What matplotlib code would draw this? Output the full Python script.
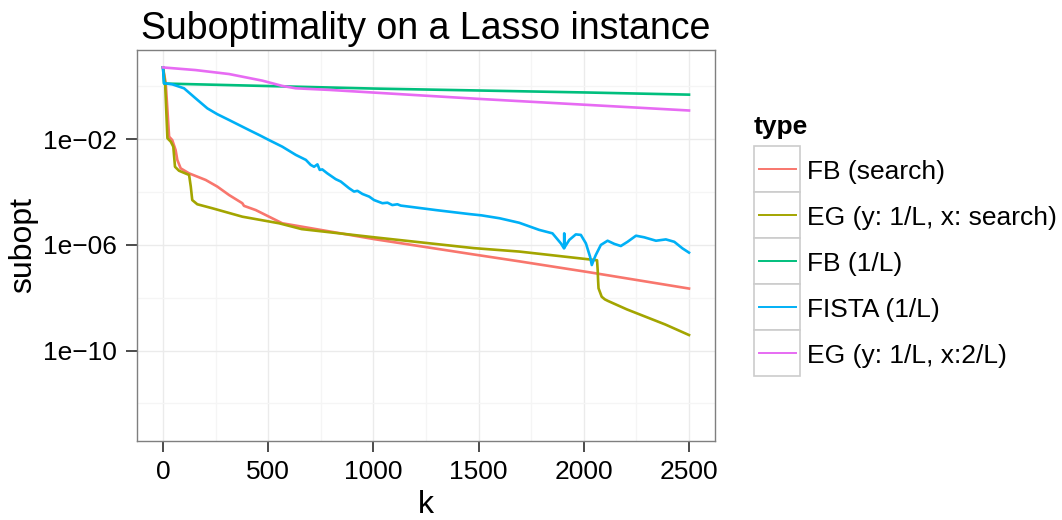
#!/usr/bin/env python3
"""Suboptimality curves on a Lasso instance, ggplot-like look."""

import matplotlib

matplotlib.use("Agg")
import matplotlib.pyplot as plt
import numpy as np
from matplotlib.lines import Line2D
from matplotlib.patches import Rectangle
from matplotlib.ticker import FixedLocator, NullFormatter

plt.rcParams["font.family"] = ["Liberation Sans", "DejaVu Sans"]

# series names, as in the legend (drawing order = legend order)
SERIES = [
    "FB (search)",
    "EG (y: 1/L, x: search)",
    "FB (1/L)",
    "FISTA (1/L)",
    "EG (y: 1/L, x:2/L)",
]
COLORS = ["#F8766D", "#A3A500", "#00BF7D", "#00B0F6", "#E76BF3"]

# iteration k and log10(subopt)
fb_search_k = [0, 13, 29, 44, 60, 68, 84, 124, 203, 258, 314, 377, 385, 441,
               504, 567, 1004, 1477, 1693, 2023, 2500]
fb_search_log = [0.72, 0.12, -1.90, -2.03, -2.41, -2.78, -3.10, -3.29, -3.54,
                 -3.79, -4.11, -4.42, -4.52, -4.68, -4.93, -5.18, -5.78, -6.36,
                 -6.62, -7.03, -7.65]

eg_search_k = [0, 10, 21, 37, 49, 57, 76, 124, 132, 139, 163, 234, 377, 552,
               659, 1004, 1477, 1693, 2063, 2066, 2068, 2070, 2085, 2100, 2115,
               2205, 2387, 2500]
eg_search_log = [0.72, 0.12, -1.96, -2.09, -2.28, -3.04, -3.19, -3.35, -3.79,
                 -4.30, -4.46, -4.61, -4.93, -5.18, -5.40, -5.71, -6.12, -6.25,
                 -6.58, -6.95, -7.35, -7.64, -7.96, -8.06, -8.12, -8.44, -9.01,
                 -9.41]

fb_fixed_k = [0, 5, 1004, 2023, 2500]
fb_fixed_log = [0.72, 0.11, -0.08, -0.23, -0.31]

fista_k = [0, 5, 44, 100, 155, 211, 258, 314, 409, 460, 504, 567, 631, 679,
           702, 718, 734, 745, 757, 781, 821, 845, 884, 908, 924, 948, 980,
           1003, 1043, 1067, 1090, 1114, 1130, 1170, 1297, 1455, 1514, 1600,
           1693, 1788, 1851, 1891, 1906, 1907, 1908, 1931, 1962, 1986, 2010,
           2030, 2038, 2048, 2057, 2081, 2113, 2145, 2176, 2208, 2248, 2287,
           2343, 2390, 2430, 2469, 2500]
fista_log = [0.72, 0.12, 0.08, -0.07, -0.45, -0.83, -1.05, -1.27, -1.65, -1.85,
             -2.03, -2.28, -2.59, -2.78, -2.97, -3.04, -2.95, -3.16, -3.14,
             -3.29, -3.51, -3.60, -3.85, -3.98, -3.95, -4.07, -4.17, -4.30,
             -4.42, -4.40, -4.49, -4.46, -4.51, -4.55, -4.68, -4.83, -4.88,
             -4.99, -5.16, -5.43, -5.56, -5.94, -6.13, -5.56, -6.10, -5.81,
             -5.60, -5.62, -5.94, -6.45, -6.76, -6.55, -6.38, -6.00, -5.84,
             -5.96, -6.04, -5.88, -5.65, -5.71, -5.84, -5.79, -5.88, -6.13,
             -6.29]

eg_fixed_k = [0, 155, 314, 472, 567, 631, 789, 1500, 2500]
eg_fixed_log = [0.72, 0.62, 0.47, 0.22, 0.02, -0.07, -0.13, -0.47, -0.91]

K_VALUES = [fb_search_k, eg_search_k, fb_fixed_k, fista_k, eg_fixed_k]
LOG_VALUES = [fb_search_log, eg_search_log, fb_fixed_log, fista_log, eg_fixed_log]

X_TICKS = [0, 500, 1000, 1500, 2000, 2500]
Y_TICKS = [1e-2, 1e-6, 1e-10]
Y_TICK_LABELS = ["1e\u221202", "1e\u221206", "1e\u221210"]

W, H = 1062, 520
TICK_SIZE = 19


def draw_legend(fig) -> None:
    # pixel-space axes so the boxed ggplot keys can be laid out directly
    lax = fig.add_axes([740 / W, (H - 400) / H, 322 / W, 300 / H])
    lax.set_xlim(740, 1062)
    lax.set_ylim(400, 100)
    lax.axis("off")
    lax.text(754, 127, "type", fontsize=TICK_SIZE, fontweight="bold",
             ha="left", va="center")
    key = 46
    top = 146
    for i, (name, color) in enumerate(zip(SERIES, COLORS)):
        y0 = top + i * key
        lax.add_patch(Rectangle((754, y0), key, key, facecolor="white",
                                edgecolor="#CCCCCC", linewidth=1.2))
        lax.add_line(Line2D([759, 796], [y0 + key / 2] * 2, color=color,
                            linewidth=1.4))
        lax.text(806.5, y0 + key / 2, name, fontsize=TICK_SIZE,
                 ha="left", va="center_baseline")


def main() -> None:
    fig = plt.figure(figsize=(W / 100, H / 100), dpi=100)
    ax = fig.add_axes([136.7 / W, (H - 440.7) / H, 578.6 / W, 390.7 / H])

    for ks, logs, color in zip(K_VALUES, LOG_VALUES, COLORS):
        ax.plot(ks, 10 ** np.asarray(logs), color=color, linewidth=1.9,
                solid_joinstyle="round", zorder=3)

    ax.set_yscale("log")
    ax.set_xlim(-125, 2625)
    ax.set_ylim(10 ** -13.41, 10 ** 1.38)

    ax.xaxis.set_major_locator(FixedLocator(X_TICKS))
    ax.xaxis.set_minor_locator(FixedLocator([250, 750, 1250, 1750, 2250]))
    ax.yaxis.set_major_locator(FixedLocator(Y_TICKS))
    ax.set_yticklabels(Y_TICK_LABELS)
    ax.yaxis.set_minor_locator(FixedLocator([1e0, 1e-4, 1e-8, 1e-12]))
    ax.yaxis.set_minor_formatter(NullFormatter())

    ax.grid(True, which="major", color="#EBEBEB", linewidth=1.0, zorder=0)
    ax.grid(True, which="minor", color="#F5F5F5", linewidth=1.0, zorder=0)
    ax.set_axisbelow(True)

    for spine in ax.spines.values():
        spine.set_color("#7F7F7F")
        spine.set_linewidth(1.0)

    ax.tick_params(which="major", length=8, width=1.1, color="#1A1A1A",
                   labelsize=TICK_SIZE, labelcolor="black", pad=6)
    ax.tick_params(which="minor", length=0)

    ax.set_xlabel("k", fontsize=23, labelpad=4)
    ax.set_ylabel("subopt", fontsize=23, labelpad=4)
    ax.set_title("Suboptimality on a Lasso instance", fontsize=27, pad=8)

    draw_legend(fig)

    fig.savefig("out.png", dpi=100)
    plt.close(fig)


if __name__ == "__main__":
    main()
